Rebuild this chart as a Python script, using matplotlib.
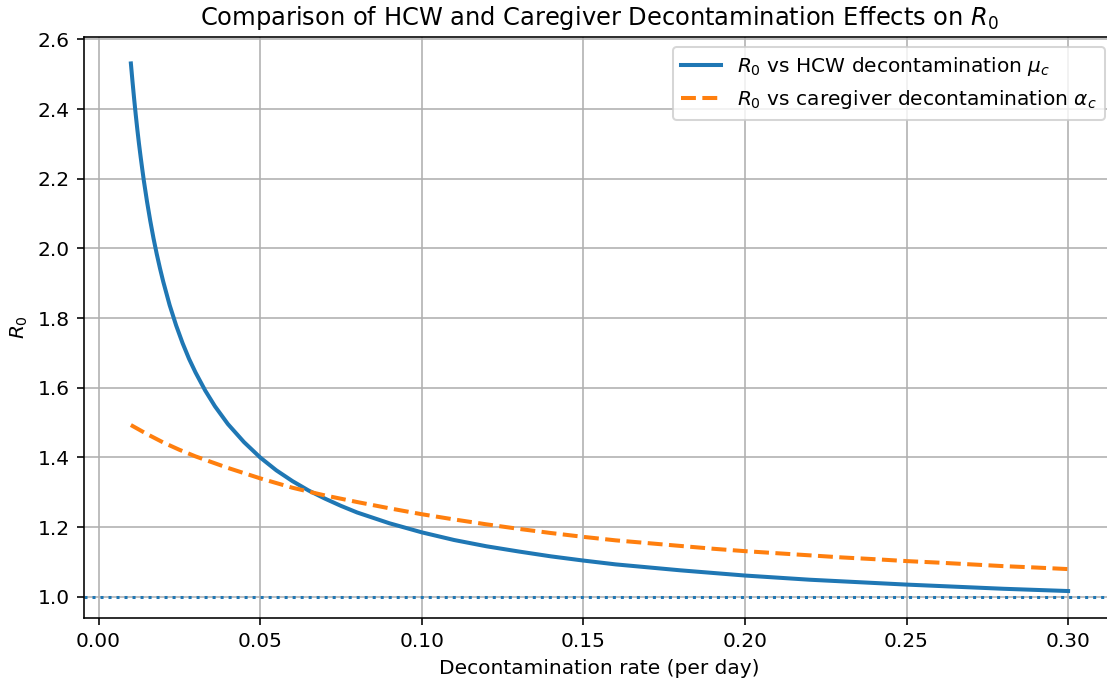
import numpy as np
import matplotlib
matplotlib.use("Agg")
import matplotlib.pyplot as plt

# -- values
mu_c = [0.0100, 0.0105, 0.0110, 0.0115, 0.0120, 0.0125, 0.0130, 0.0135, 0.0140,
        0.0150, 0.0160, 0.0170, 0.0180, 0.0190, 0.0200, 0.0220, 0.0240, 0.0260,
        0.0280, 0.0300, 0.0330, 0.0360, 0.0400, 0.0450, 0.0500, 0.0550, 0.0600,
        0.0650, 0.0700, 0.0750, 0.0800, 0.0900, 0.1000, 0.1100, 0.1200, 0.1300,
        0.1400, 0.1500, 0.1600, 0.1800, 0.2000, 0.2200, 0.2500, 0.2800, 0.3000]
R0_mu = [2.531, 2.479, 2.430, 2.384, 2.341, 2.301, 2.264, 2.229, 2.195,
         2.134, 2.079, 2.029, 1.984, 1.943, 1.905, 1.837, 1.779, 1.728,
         1.683, 1.644, 1.592, 1.547, 1.496, 1.444, 1.400, 1.363, 1.332,
         1.305, 1.282, 1.261, 1.242, 1.211, 1.185, 1.163, 1.145, 1.130,
         1.116, 1.104, 1.093, 1.076, 1.061, 1.049, 1.035, 1.023, 1.0165]

alpha_c = [0.010, 0.015, 0.020, 0.025, 0.030, 0.040, 0.050, 0.060, 0.070, 0.080,
           0.090, 0.100, 0.110, 0.120, 0.130, 0.140, 0.150, 0.160, 0.170, 0.180,
           0.190, 0.200, 0.210, 0.220, 0.230, 0.240, 0.250, 0.260, 0.270, 0.280,
           0.290, 0.300]
R0_alpha = [1.493, 1.467, 1.443, 1.422, 1.403, 1.370, 1.340, 1.313, 1.291, 1.272,
            1.254, 1.237, 1.222, 1.208, 1.195, 1.183, 1.172, 1.162, 1.154, 1.146,
            1.138, 1.131, 1.125, 1.119, 1.113, 1.108, 1.1025, 1.098, 1.093, 1.088,
            1.084, 1.0795]

threshold = 1.0

DPI = 145
fig = plt.figure(figsize=(1107./DPI, 682./DPI), dpi=DPI)
ax = fig.add_axes([0.0759, 0.0943, 0.9313, 0.8510])

ax.plot(mu_c, R0_mu, '-', color='tab:blue', lw=2,
        label=r'$R_0$ vs HCW decontamination $\mu_c$')
ax.plot(alpha_c, R0_alpha, '--', color='tab:orange', lw=2,
        label=r'$R_0$ vs caregiver decontamination $\alpha_c$')
ax.axhline(threshold, linestyle=':', color='tab:blue', lw=1.5)

ax.set_xlim(-0.0045, 0.3145)
ax.set_ylim(0.940, 2.606)
ax.set_xlabel('Decontamination rate (per day)')
ax.set_ylabel(r'$R_0$')
ax.set_title(r'Comparison of HCW and Caregiver Decontamination Effects on $R_0$')
ax.grid(True)
ax.legend(loc='upper right')

fig.savefig('out.png', dpi=DPI)
